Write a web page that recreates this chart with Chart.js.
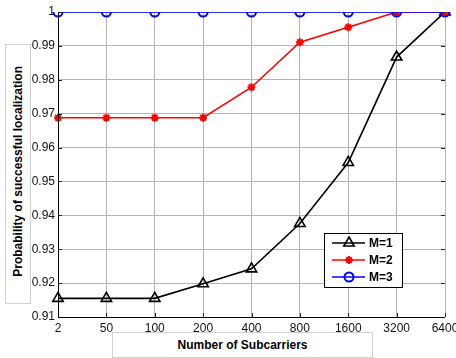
<!DOCTYPE html>
<html>
<head>
<meta charset="utf-8">
<script src="https://cdn.jsdelivr.net/npm/chart.js@4.4.1/dist/chart.umd.min.js"></script>
<style>
  html, body { margin: 0; padding: 0; background: #fff; }
  #wrap { position: relative; width: 456px; height: 358px; overflow: hidden; font-family: "Liberation Sans", Arial, sans-serif; }
  canvas { position: absolute; left: 0; top: 0; }
  #ytitle { position: absolute; left: 5px; top: 44px; width: 24px; height: 258px; border: 1px solid #d0d0d0; background: #fff;
            display: flex; align-items: center; justify-content: center; }
  #ytitle span { writing-mode: vertical-rl; transform: rotate(180deg); font-weight: bold; font-size: 12px; color: #000; white-space: nowrap; margin-bottom: 6px; }
  #xtitle { position: absolute; left: 112px; top: 332px; width: 259px; height: 24px; border: 1px solid #d0d0d0; background: #fff;
            display: flex; align-items: center; justify-content: center; font-weight: bold; font-size: 12px; color: #000; }
</style>
</head>
<body>
<div id="wrap">
  <canvas id="c" width="456" height="358"></canvas>
  <div id="ytitle"><span>Probability of successful localization</span></div>
  <div id="xtitle">Number of Subcarriers</div>
</div>
<script>
const categories = ["2", "50", "100", "200", "400", "800", "1600", "3200", "6400"];
const seriesNames = ["M=1", "M=2", "M=3"];
const m1 = [0.9155, 0.9155, 0.9155, 0.9198, 0.9242, 0.9376, 0.9556, 0.9867, 1.0];
const m2 = [0.9688, 0.9688, 0.9688, 0.9688, 0.9778, 0.9911, 0.9955, 1.0, 1.0];
const m3 = [1.0, 1.0, 1.0, 1.0, 1.0, 1.0, 1.0, 1.0, 1.0];
const yTicks = [0.91, 0.92, 0.93, 0.94, 0.95, 0.96, 0.97, 0.98, 0.99, 1];

const FONT = '"Liberation Sans", Arial, sans-serif';

const innerTicks = {
  id: 'innerTicks',
  afterDraw(chart) {
    const ctx = chart.ctx, a = chart.chartArea;
    const xs = chart.scales.x, ys = chart.scales.y;
    ctx.save();
    ctx.strokeStyle = '#222';
    ctx.lineWidth = 1;
    ctx.beginPath();
    yTicks.forEach(v => {
      const y = Math.round(ys.getPixelForValue(v)) + 0.5;
      ctx.moveTo(a.left, y); ctx.lineTo(a.left + 4, y);
      ctx.moveTo(a.right, y); ctx.lineTo(a.right - 4, y);
    });
    categories.forEach((c, i) => {
      const x = Math.round(xs.getPixelForValue(i)) + 0.5;
      ctx.moveTo(x, a.bottom); ctx.lineTo(x, a.bottom - 4);
    });
    ctx.stroke();
    ctx.strokeStyle = '#000';
    ctx.beginPath();
    ctx.moveTo(a.left + 0.5, a.top); ctx.lineTo(a.left + 0.5, a.bottom + 0.5);
    ctx.lineTo(a.right, a.bottom + 0.5);
    ctx.stroke();
    ctx.restore();
  }
};

const boxLegend = {
  id: 'boxLegend',
  afterDraw(chart) {
    const ctx = chart.ctx;
    const x0 = 324, y0 = 233, w = 78, h = 54;
    ctx.save();
    ctx.fillStyle = '#fff';
    ctx.fillRect(x0, y0, w, h);
    ctx.strokeStyle = '#000';
    ctx.lineWidth = 1;
    ctx.strokeRect(x0 + 0.5, y0 + 0.5, w, h);
    [0, 1, 2].forEach((di, k) => {
      const ds = chart.data.datasets[di];
      const y = y0 + 10 + k * 17;
      ctx.strokeStyle = ds.borderColor;
      ctx.lineWidth = ds.borderWidth;
      ctx.beginPath();
      ctx.moveTo(x0 + 8, y); ctx.lineTo(x0 + 41, y);
      ctx.stroke();
      ctx.fillStyle = ds.pointBackgroundColor;
      ctx.strokeStyle = ds.pointBorderColor;
      ctx.lineWidth = ds.pointBorderWidth;
      Chart.helpers.drawPoint(ctx, {
        pointStyle: ds.pointStyle,
        radius: ds.pointRadius,
        borderWidth: ds.pointBorderWidth,
        rotation: 0
      }, x0 + 25, y);
      ctx.fillStyle = '#000';
      ctx.font = 'bold 12px ' + FONT;
      ctx.textBaseline = 'middle';
      ctx.textAlign = 'left';
      ctx.fillText(seriesNames[di], x0 + 45, y + 1);
    });
    ctx.restore();
  }
};

const ctx = document.getElementById('c').getContext('2d');
new Chart(ctx, {
  type: 'line',
  data: {
    labels: categories,
    datasets: [
      { label: seriesNames[0], data: m1, borderColor: '#000', borderWidth: 1.6,
        pointStyle: 'triangle', pointRadius: 6, pointBorderWidth: 1.6,
        pointBorderColor: '#000', pointBackgroundColor: 'rgba(0,0,0,0)', order: 2, tension: 0 },
      { label: seriesNames[1], data: m2, borderColor: '#ff0000', borderWidth: 1.6,
        pointStyle: 'star', pointRadius: 4, pointBorderWidth: 2,
        pointBorderColor: '#ff0000', pointBackgroundColor: '#ff0000', order: 1, tension: 0 },
      { label: seriesNames[2], data: m3, borderColor: '#0000ff', borderWidth: 1.6,
        pointStyle: 'circle', pointRadius: 4.5, pointBorderWidth: 2,
        pointBorderColor: '#0000ff', pointBackgroundColor: 'rgba(0,0,0,0)', order: 0, tension: 0 }
    ]
  },
  options: {
    responsive: false,
    animation: false,
    devicePixelRatio: 1,
    layout: { padding: { top: 12, right: 11, left: 0, bottom: 0 } },
    plugins: { legend: { display: false }, tooltip: { enabled: false } },
    elements: { line: { fill: false } },
    scales: {
      x: {
        type: 'category',
        offset: false,
        grid: { color: '#b4b4b4', lineWidth: 1, drawTicks: false },
        border: { display: false },
        ticks: { color: '#111', font: { family: FONT, size: 12 }, padding: 4, maxRotation: 0, autoSkip: false },
        afterFit(s) { s.height = 41; s.paddingLeft = 0; s.paddingRight = 0; }
      },
      y: {
        min: 0.91, max: 1,
        grid: { color: '#b4b4b4', lineWidth: 1, drawTicks: false },
        border: { display: false },
        afterBuildTicks(s) { s.ticks = yTicks.map(v => ({ value: v })); },
        ticks: { color: '#111', font: { family: FONT, size: 12 }, padding: 3,
                 callback: v => (Math.abs(v - 1) < 1e-9 ? '1' : v.toFixed(2)) },
        afterFit(s) { s.width = 58; s.paddingTop = 0; s.paddingBottom = 0; }
      }
    }
  },
  plugins: [innerTicks, boxLegend]
});
</script>
</body>
</html>
